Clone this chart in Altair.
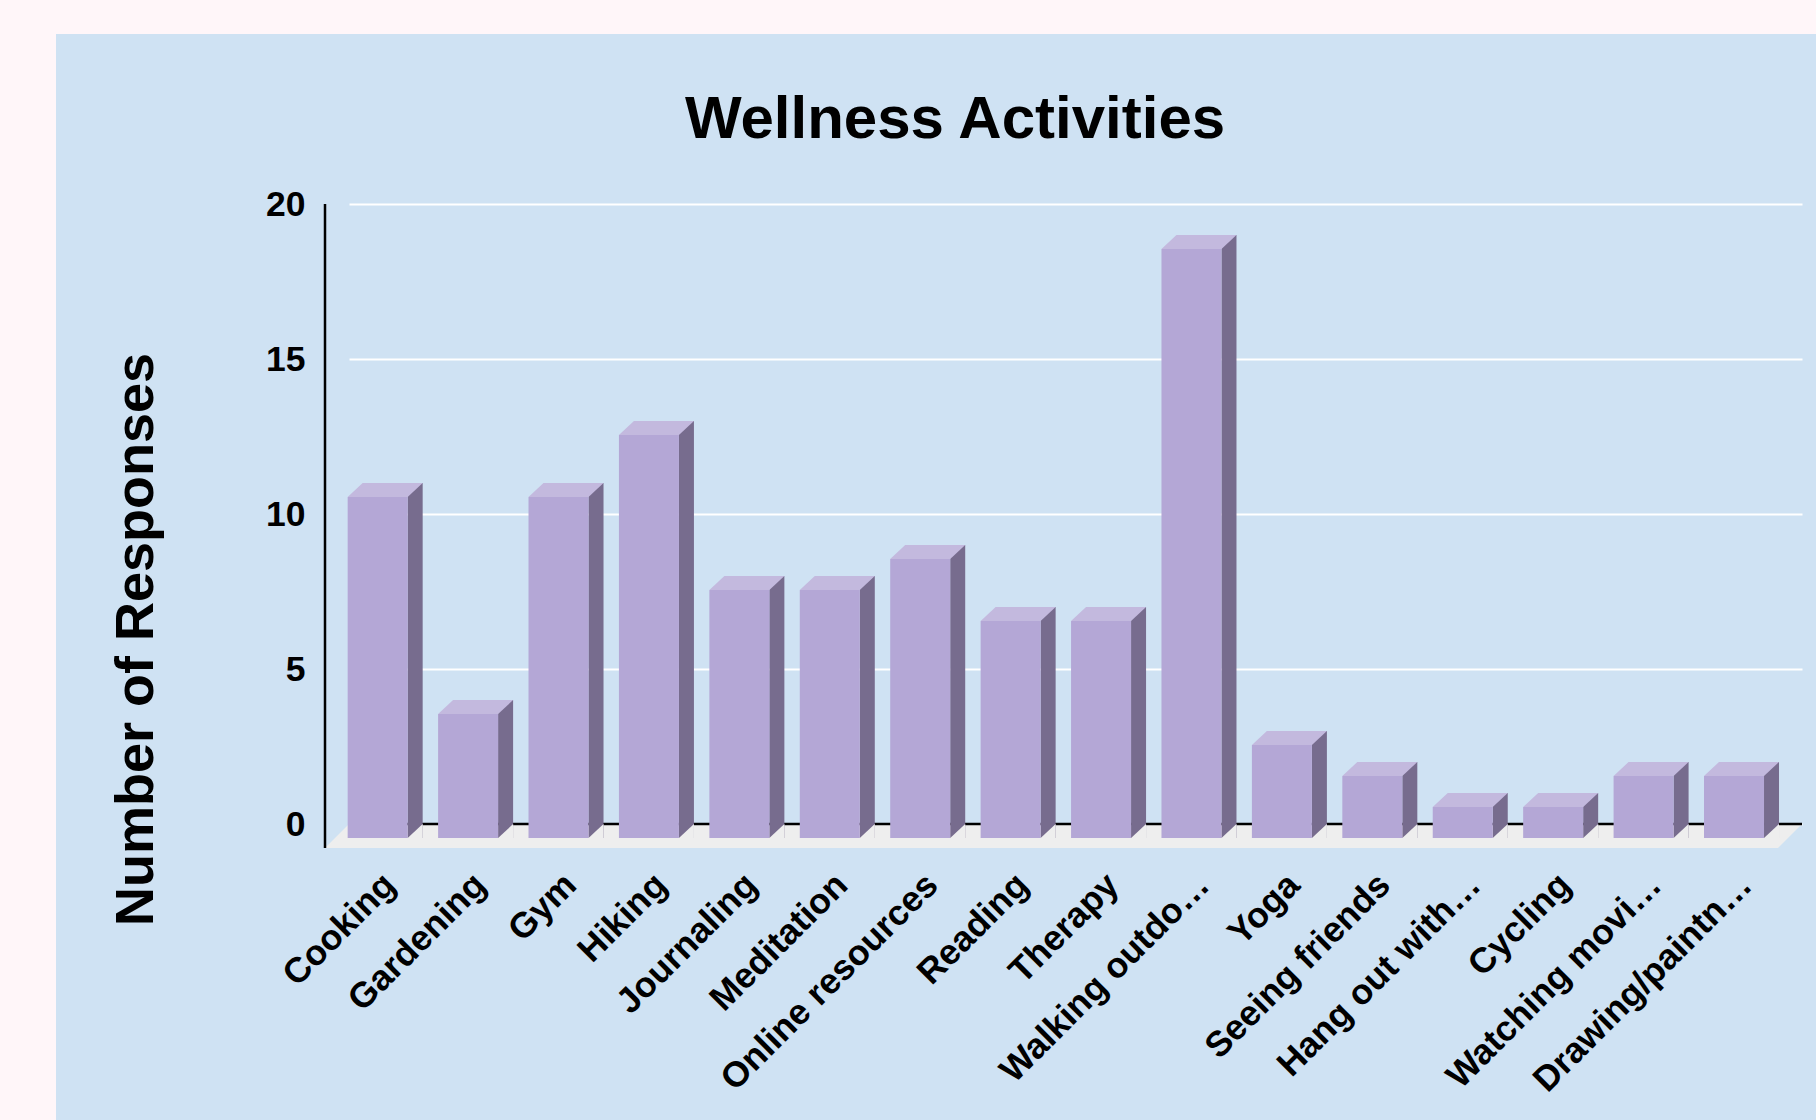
import altair as alt
import pandas as pd

# ---- data ----
activities = ["Cooking", "Gardening", "Gym", "Hiking", "Journaling", "Meditation",
              "Online resources", "Reading", "Therapy", "Walking outdo…", "Yoga",
              "Seeing friends", "Hang out with…", "Cycling", "Watching movi…",
              "Drawing/paintn…"]
responses = [11, 4, 11, 13, 8, 8, 9, 7, 7, 19, 3, 2, 1, 1, 2, 2]
y_ticks = [0, 5, 10, 15, 20]
chart_title = "Wellness Activities"

df = pd.DataFrame({"activity": activities, "responses": responses})

FONT = "Liberation Sans"
W, H = 1453, 620
DX, DY = 15, 14      # 3-D depth of bars (px)
BW = 60              # bar width (px)

FRONT = "#B4A7D6"
TOP = "#C3B9DE"
SIDE = "#776C8E"
FLOOR = "#EEEEEE"
BG = "#CFE2F3"
PAGE = "#FFF6F9"

xscale = alt.Scale(domain=activities, paddingInner=0.3364, paddingOuter=0.2027, align=0.373)
yscale = alt.Scale(domain=[0, 20], nice=False)

x_enc = alt.X("activity:N", scale=xscale,
              axis=alt.Axis(title=None, labelAngle=315, labelAlign="right",
                            labelBaseline="middle", labelFont=FONT,
                            labelFontWeight="bold", labelFontSize=35.5,
                            labelColor="black", labelPadding=55, labelOffset=-3,
                            labelLimit=0, ticks=False, domain=False, grid=False))
y_axis = alt.Axis(title="Number of Responses", values=y_ticks, grid=True,
                  gridColor="white", gridWidth=2, domain=False, ticks=False,
                  labelFont=FONT, labelFontWeight="bold", labelFontSize=35.5,
                  labelColor="black", labelPadding=44,
                  titleFont=FONT, titleFontWeight="bold", titleFontSize=54,
                  titleColor="black", titleX=-213, titleY=435, titleAngle=270,
                  titleAlign="center", titleBaseline="middle")
y_enc = alt.Y("responses:Q", scale=yscale, axis=y_axis)

one = alt.Data(values=[{"title": chart_title}])

page_left = alt.Chart(one).mark_rect(color=PAGE).encode(
    x=alt.value(-349), x2=alt.value(-293), y=alt.value(-204), y2=alt.value(916))
page_top = alt.Chart(one).mark_rect(color=PAGE).encode(
    x=alt.value(-349), x2=alt.value(1467), y=alt.value(-204), y2=alt.value(-170))

title = alt.Chart(one).mark_text(font=FONT, fontSize=60, fontWeight="bold", color="black",
                                 align="center", baseline="alphabetic").encode(
    text="title:N", x=alt.value(606), y=alt.value(-66))

floor_path = f"M -24 24 L {W-24} 24 L {W} 0 L 0 0 Z"
floor = alt.Chart(one).mark_point(shape=floor_path, size=4, filled=True, opacity=1,
                                  color=FLOOR, strokeWidth=0).encode(
    x=alt.value(0), y=alt.datum(0))

zero_rule = alt.Chart(one).mark_rule(color="black", strokeWidth=2.5).encode(y=alt.datum(0))
axis_rule = alt.Chart(one).mark_rule(color="black", strokeWidth=2.5, y2Offset=24).encode(
    x=alt.value(-24), y=alt.datum(20), y2=alt.datum(0))

base = alt.Chart(df)
side = base.mark_bar(color=SIDE, width=DX, xOffset=BW / 2 - DX / 2, x2Offset=BW / 2 - DX / 2,
                     y2Offset=DY).encode(x=x_enc, y=y_enc, y2=alt.datum(0))
front = base.mark_bar(color=FRONT, xOffset=-DX, x2Offset=-DX, yOffset=DY, y2Offset=DY).encode(
    x=x_enc, y=y_enc, y2=alt.datum(0))
top_path = f"M -45 {DY} L 15 {DY} L 30 0 L -30 0 Z"
top = base.mark_point(shape=top_path, size=4, filled=True, opacity=1, color=TOP,
                      strokeWidth=0).encode(x=x_enc, y=y_enc)
tri_path = f"M 30 0 L 30 {DY} L 15 {DY} Z"
tri = base.mark_point(shape=tri_path, size=4, filled=True, opacity=1, color=FLOOR,
                      strokeWidth=0).encode(x=x_enc, y=alt.datum(0))

chart = alt.layer(page_left, page_top, title, floor, zero_rule, axis_rule,
                  side, front, top, tri).properties(
    width=W, height=H,
    autosize=alt.AutoSizeParams(type="none"),
    padding={"left": 349, "top": 204, "right": 14, "bottom": 296},
    background=BG,
).configure_view(strokeWidth=0)

chart.save("out.html", embed_options={"renderer": "svg", "actions": False})
